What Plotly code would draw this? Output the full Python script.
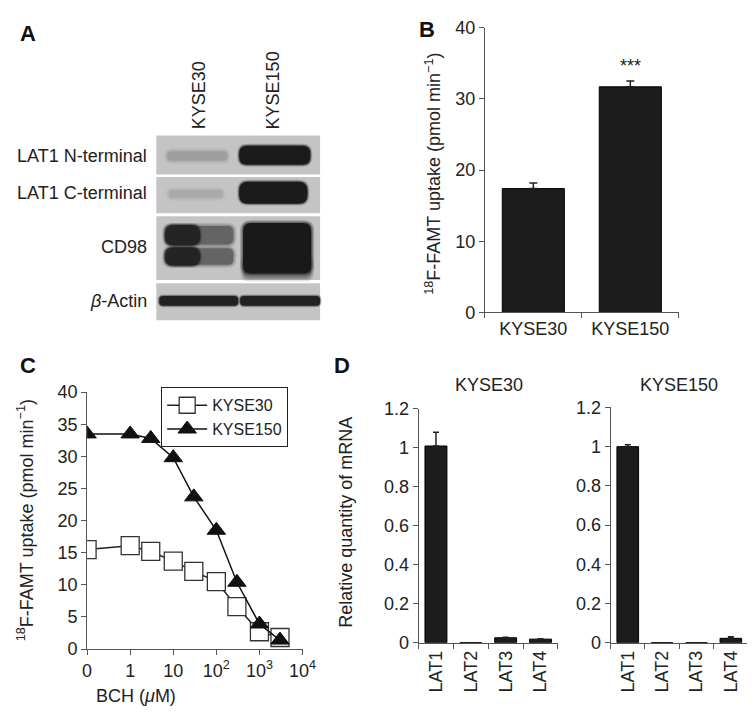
import math
import plotly.graph_objects as go

W, H = 755, 712
FONT = "Liberation Sans, Arial, sans-serif"


def px(x):
    return x / W


def py(y):
    return 1 - y / H


# ---------------- DATA ----------------
# Panel A: western blot (relative band darkness 0 = background, 1 = black)
blot_lanes = ["KYSE30", "KYSE150"]
blot_rows = ["LAT1 N-terminal", "LAT1 C-terminal", "CD98", "<i>β</i>-Actin"]
band_n_term = [0.22, 0.97]
band_c_term = [0.15, 0.97]
band_cd98 = [0.92, 0.98]
band_actin = [0.93, 0.93]

# Panel B
b_cells = ["KYSE30", "KYSE150"]
b_uptake = [17.4, 31.7]
b_err = [0.8, 0.8]

# Panel C
bch_conc = [0, 1, 3, 10, 30, 100, 300, 1000, 3000]
c_kyse30 = [15.5, 16.1, 15.2, 13.7, 12.1, 10.5, 6.6, 2.7, 1.8]
c_kyse150 = [33.5, 33.5, 32.8, 29.8, 23.7, 18.5, 10.4, 3.9, 1.4]
c_tickvals = [-1, 0, 1, 2, 3, 4]
c_ticktext = ["0", "1", "10", "10<sup>2</sup>", "10<sup>3</sup>", "10<sup>4</sup>"]

# Panel D
d_genes = ["LAT1", "LAT2", "LAT3", "LAT4"]
d_kyse30 = [1.01, 0, 0.025, 0.018]
d_kyse30_err = [0.07, 0, 0.003, 0.002]
d_kyse150 = [1.0, 0, 0, 0.022]
d_kyse150_err = [0.01, 0, 0, 0.008]

# ---------------- FIGURE ----------------
fig = go.Figure()
BAR = "#1c1c1c"

# Panel B bars
fig.add_trace(go.Bar(
    x=b_cells, y=b_uptake, width=0.64, marker=dict(color=BAR, line=dict(color="#000", width=1)),
    error_y=dict(type="data", array=b_err, arrayminus=[0] * len(b_err), symmetric=False,
                 color="#222", thickness=1.5, width=4),
    xaxis="x", yaxis="y", showlegend=False))

# Panel C lines (log position, 0 placed one decade below 1)
c_pos = [math.log10(c) if c > 0 else -1 for c in bch_conc]
fig.add_trace(go.Scatter(
    x=c_pos, y=c_kyse30, mode="lines+markers", name="KYSE30",
    line=dict(color="#222", width=1.5),
    marker=dict(symbol="square", size=18, color="white", line=dict(color="#333", width=1.3)),
    xaxis="x2", yaxis="y2"))
fig.add_trace(go.Scatter(
    x=c_pos, y=c_kyse150, mode="lines+markers", name="KYSE150",
    line=dict(color="#111", width=1.5),
    marker=dict(symbol="triangle-up", size=16, color="#111", line=dict(color="#111", width=1)),
    xaxis="x2", yaxis="y2"))

# Panel D bars
fig.add_trace(go.Bar(
    x=d_genes, y=d_kyse30, width=0.63, marker=dict(color=BAR, line=dict(color="#000", width=1)),
    error_y=dict(type="data", array=d_kyse30_err, arrayminus=[0] * 4, symmetric=False,
                 color="#222", thickness=1.5, width=3),
    xaxis="x3", yaxis="y3", showlegend=False))
fig.add_trace(go.Bar(
    x=d_genes, y=d_kyse150, width=0.63, marker=dict(color=BAR, line=dict(color="#000", width=1)),
    error_y=dict(type="data", array=d_kyse150_err, arrayminus=[0] * 4, symmetric=False,
                 color="#222", thickness=1.5, width=3),
    xaxis="x4", yaxis="y4", showlegend=False))

ax = dict(showline=True, linecolor="#555", linewidth=1, ticks="outside", ticklen=5,
          tickcolor="#555", tickwidth=1, showgrid=False, zeroline=False,
          tickfont=dict(size=18, color="#222", family=FONT), fixedrange=True)

fig.update_layout(
    width=W, height=H, margin=dict(l=0, r=0, t=0, b=0),
    paper_bgcolor="white", plot_bgcolor="white",
    font=dict(family=FONT, color="#222", size=18),
    xaxis=dict(ax, domain=[px(484), px(683)], type="category", range=[-0.5, 1.5],
               tickson="boundaries", anchor="y"),
    yaxis=dict(ax, domain=[py(303), py(10)], range=[0, 40], dtick=10, anchor="x"),
    xaxis2=dict(ax, domain=[px(76), px(297)], range=[-1, 4], tickvals=c_tickvals,
                ticktext=c_ticktext, anchor="y2"),
    yaxis2=dict(ax, domain=[py(649.3), py(385)], range=[0, 40], dtick=5, anchor="x2"),
    xaxis3=dict(ax, domain=[px(416), px(559)], type="category", range=[-0.5, 3.5],
                tickson="boundaries", tickangle=-90, anchor="y3"),
    yaxis3=dict(ax, domain=[py(642.7), py(402.3)], range=[0, 1.2], dtick=0.2, anchor="x3"),
    xaxis4=dict(ax, domain=[px(613), px(754)], type="category", range=[-0.5, 3.5],
                tickson="boundaries", tickangle=-90, anchor="y4"),
    yaxis4=dict(ax, domain=[py(642.7), py(400.7)], range=[0, 1.2], dtick=0.2, anchor="x4"),
    legend=dict(x=px(152), y=py(380), xanchor="left", yanchor="top",
                bordercolor="#222", borderwidth=1, bgcolor="white",
                font=dict(size=16, family=FONT, color="#222"), tracegroupgap=0,
                itemwidth=40, itemsizing="trace"),
)

ann = []


def label(text, x, y, **kw):
    d = dict(text=text, x=px(x), y=py(y), xref="paper", yref="paper", showarrow=False,
             xanchor="center", yanchor="middle",
             font=dict(size=18, family=FONT, color="#222"))
    d.update(kw)
    ann.append(d)


# panel letters
for t, x, y in [("A", 15, 16), ("B", 425, 12), ("C", 15, 358), ("D", 338, 358)]:
    label("<b>%s</b>" % t, x, y, font=dict(size=22, family=FONT, color="#111"))

# B
label("<sup>18</sup>F-FAMT uptake (pmol min<sup>−1</sup>)", 431, 160, textangle=-90)
ann.append(dict(text="***", x="KYSE150", y=34.6, xref="x", yref="y", showarrow=False,
                xanchor="center", yanchor="middle",
                font=dict(size=18, family=FONT, color="#222")))
# C
label("<sup>18</sup>F-FAMT uptake (pmol min<sup>−1</sup>)", 13, 517, textangle=-90)
label("BCH (<i>μ</i>M)", 126, 698)
# D
label("Relative quantity of mRNA", 342, 519, textangle=-90)
label("KYSE30", 488, 378)
label("KYSE150", 683, 378)

# ---------------- Panel A: blot drawing ----------------
shapes = []
BG = 196
DARK = 22
row_y = [(121, 161), (163.5, 201), (204, 269.5), (273, 311)]
blot_x = (147, 315)
row_label_y = [141.7, 180.5, 236, 291]
lane_label_x = [191.7, 266.7]


def gray(i):
    v = int(round(BG - (BG - DARK) * i))
    return "rgb(%d,%d,%d)" % (v, v, v)


def rrect(x0, x1, y0, y1, r):
    r = max(0.5, min(r, (x1 - x0) / 2, (y1 - y0) / 2))
    X0, X1 = px(x0), px(x1)
    Y0, Y1 = py(y0), py(y1)
    rx, ry = r / W, r / H
    return (f"M {X0+rx},{Y0} L {X1-rx},{Y0} Q {X1},{Y0} {X1},{Y0-ry} "
            f"L {X1},{Y1+ry} Q {X1},{Y1} {X1-rx},{Y1} L {X0+rx},{Y1} "
            f"Q {X0},{Y1} {X0},{Y1+ry} L {X0},{Y0-ry} Q {X0},{Y0} {X0+rx},{Y0} Z")


def band(x0, x1, y0, y1, inten, blur=3.0, r=None):
    if r is None:
        r = (y1 - y0) / 2
    for e, op in [(blur, 0.22), (blur / 2, 0.4), (0, 1.0)]:
        shapes.append(dict(type="path", xref="paper", yref="paper",
                           path=rrect(x0 - e, x1 + e, y0 - e, y1 + e, r + e),
                           fillcolor=gray(inten), opacity=op, line=dict(width=0),
                           layer="above"))


# row backgrounds
for (y0, y1) in row_y:
    shapes.append(dict(type="rect", xref="paper", yref="paper", x0=px(blot_x[0]),
                       x1=px(blot_x[1]), y0=py(y1), y1=py(y0),
                       fillcolor=gray(0), line=dict(width=0), layer="above"))

# LAT1 N-terminal
band(158, 220, 137, 147, band_n_term[0], blur=3)
band(232, 305, 131.5, 151, band_n_term[1], blur=2, r=8)
# LAT1 C-terminal
band(160, 215, 177, 185, band_c_term[0], blur=3)
band(232, 302, 168.5, 191, band_c_term[1], blur=2, r=9)
# CD98 lane 1: double band, darker on the left
band(156, 226, 214, 233, band_cd98[0] * 0.6, blur=3, r=6)
band(156, 226, 237, 254, band_cd98[0] * 0.6, blur=3, r=6)
band(156, 192, 213, 234, band_cd98[0], blur=2, r=9)
band(156, 192, 236, 255, band_cd98[0], blur=2, r=9)
# CD98 lane 2: large blob with smear below
band(236, 306, 246, 268, band_cd98[1] * 0.4, blur=3, r=6)
band(236, 306, 211, 263, band_cd98[1], blur=3, r=8)
# beta-actin
band(150, 231, 286, 296, band_actin[0], blur=1.5, r=4)
band(233, 315, 286, 296, band_actin[1], blur=1.5, r=4)

# row and lane labels
for name, y in zip(blot_rows, row_label_y):
    label(name, 140, y, xanchor="right")
for name, x in zip(blot_lanes, lane_label_x):
    label(name, x, 116.7, textangle=-90, yanchor="bottom")

fig.update_layout(shapes=shapes, annotations=ann)
fig.write_html("out.html")
